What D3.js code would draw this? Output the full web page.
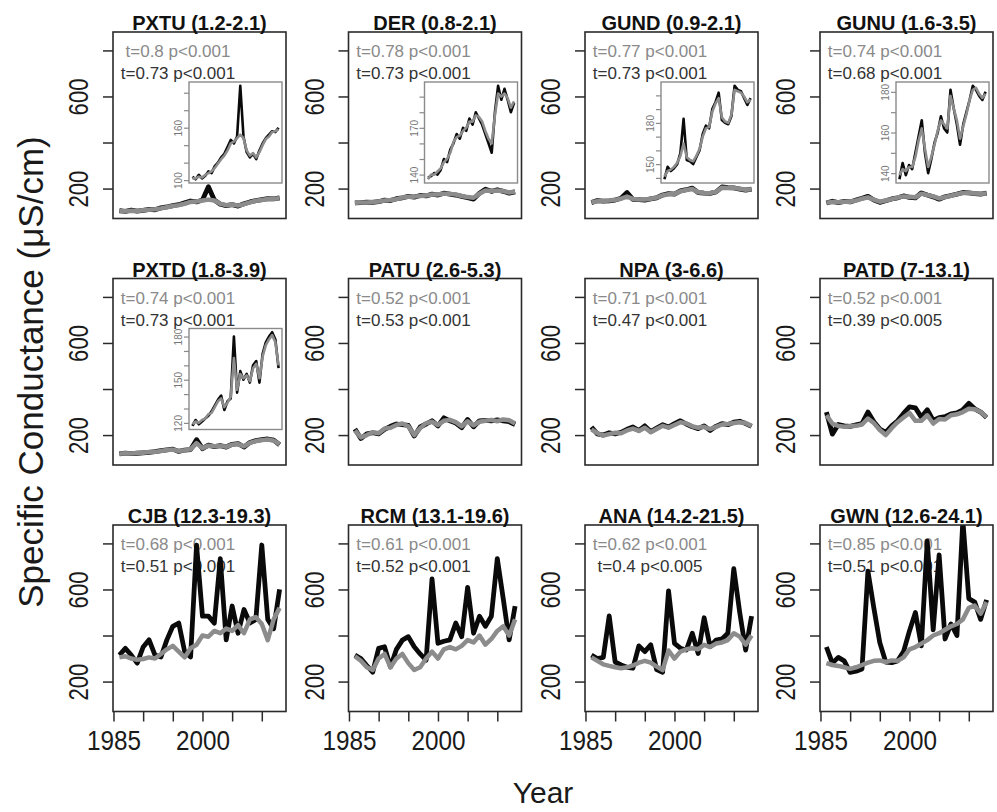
<!DOCTYPE html>
<html>
<head>
<meta charset="utf-8">
<script src="https://cdn.jsdelivr.net/npm/d3@7"></script>
<style>
  body { margin: 0; background: #fff; }
  svg { display: block; }
  text { font-family: "Liberation Sans", Arial, Helvetica, sans-serif; }
</style>
</head>
<body>
<svg width="997" height="812"></svg>
<script>
// ---- data ----
var years = d3.range(1986, 2014);
var sites = ["PXTU (1.2-2.1)", "DER (0.8-2.1)", "GUND (0.9-2.1)", "GUNU (1.6-3.5)",
             "PXTD (1.8-3.9)", "PATU (2.6-5.3)", "NPA (3-6.6)", "PATD (7-13.1)",
             "CJB (12.3-19.3)", "RCM (13.1-19.6)", "ANA (14.2-21.5)", "GWN (12.6-24.1)"];
var statsGray  = ["t=0.8 p<0.001", "t=0.78 p<0.001", "t=0.77 p<0.001", "t=0.74 p<0.001",
                  "t=0.74 p<0.001", "t=0.52 p<0.001", "t=0.71 p<0.001", "t=0.52 p<0.001",
                  "t=0.68 p<0.001", "t=0.61 p<0.001", "t=0.62 p<0.001", "t=0.85 p<0.001"];
var statsBlack = ["t=0.73 p<0.001", "t=0.73 p<0.001", "t=0.73 p<0.001", "t=0.68 p<0.001",
                  "t=0.73 p<0.001", "t=0.53 p<0.001", "t=0.47 p<0.001", "t=0.39 p<0.005",
                  "t=0.51 p<0.001", "t=0.52 p<0.001", "t=0.4 p<0.005", "t=0.51 p<0.001"];

var pxtuBlack = [104,101,106,102,105,110,108,116,120,126,130,138,146,142,150,208,150,132,126,130,124,134,142,148,152,156,155,160];
var pxtuGray  = [102,102,104,103,106,108,110,114,119,124,128,134,142,144,148,152,148,134,128,131,126,132,140,147,150,155,156,158];
var derBlack  = [138,139,141,140,143,150,148,156,160,166,163,170,168,176,172,180,176,172,166,160,154,180,197,188,195,188,180,186];
var derGray   = [137,140,140,142,144,148,150,154,161,164,165,168,170,174,174,178,177,174,168,163,160,178,192,190,192,189,183,187];
var gundBlack = [139,148,145,147,150,158,183,153,152,150,155,160,172,178,176,190,195,202,182,180,179,185,207,204,203,198,193,198];
var gundGray  = [141,145,146,148,151,156,165,155,153,152,156,161,170,176,177,188,194,198,184,181,180,186,204,203,202,199,195,197];
var gunuBlack = [137,145,139,144,142,150,158,166,150,140,147,155,160,168,162,160,181,172,164,154,164,170,176,183,181,178,176,180];
var gunuGray  = [139,142,141,143,143,148,156,162,152,143,148,154,161,166,164,162,178,172,166,157,163,169,176,181,182,179,177,179];
var pxtdBlack = [118,122,119,121,123,125,128,132,136,139,129,135,137,180,141,156,150,154,148,160,163,148,168,176,180,183,178,158];
var pxtdGray  = [119,121,120,122,123,126,127,131,135,137,131,134,138,165,143,154,151,153,149,158,161,151,166,174,178,181,176,160];
var patuBlack = [226,185,205,210,205,225,238,248,245,242,196,235,248,262,240,275,262,252,232,268,236,262,264,262,266,262,258,246];
var patuGray  = [220,190,200,212,208,228,232,244,250,238,200,230,252,258,244,262,266,256,238,260,242,258,262,266,260,268,264,250];
var npaBlack  = [235,205,200,210,205,212,225,235,220,240,215,230,245,235,250,262,248,236,228,240,220,238,250,245,256,260,250,238];
var npaGray   = [225,208,198,204,210,208,220,228,218,232,212,226,240,232,244,256,250,238,232,236,226,236,246,248,252,256,252,240];
var patdBlack = [300,204,246,240,238,244,250,300,258,226,212,240,262,294,322,318,278,310,264,276,280,292,296,310,338,314,300,276];
var patdGray  = [286,250,240,236,238,240,246,272,252,222,200,230,256,276,296,262,262,286,250,270,268,286,290,300,314,312,300,278];
var cjbBlack  = [315,344,315,280,350,381,315,307,381,440,454,330,307,793,484,484,454,734,381,528,410,513,454,470,793,470,430,600];
var cjbGray   = [305,310,300,295,298,305,300,320,340,355,330,305,345,360,400,395,420,410,430,420,445,410,470,480,450,380,470,520];
var rcmBlack  = [315,300,270,241,344,351,263,340,380,395,351,320,293,646,366,375,381,454,395,609,410,484,440,484,734,560,381,528];
var rcmGray   = [310,290,262,250,300,320,262,300,320,280,250,262,300,330,300,340,350,340,355,380,370,400,360,385,420,440,400,470];
var anaBlack  = [315,300,305,485,285,272,262,258,355,330,360,252,240,594,366,345,337,410,322,477,352,380,385,410,690,500,337,484];
var anaGray   = [305,290,275,268,262,258,262,270,282,290,282,265,250,335,300,330,340,345,340,360,350,365,370,380,410,395,360,400];
var gwnBlack  = [350,280,305,290,240,245,255,680,519,369,285,282,290,330,420,500,355,810,425,750,385,450,400,900,560,545,470,555];
var gwnGray   = [280,272,268,262,255,262,272,282,290,292,285,292,290,305,340,350,365,380,400,410,425,440,450,470,520,530,495,545];

var blackSeries = [pxtuBlack, derBlack, gundBlack, gunuBlack, pxtdBlack, patuBlack, npaBlack, patdBlack, cjbBlack, rcmBlack, anaBlack, gwnBlack];
var graySeries  = [pxtuGray, derGray, gundGray, gunuGray, pxtdGray, patuGray, npaGray, patdGray, cjbGray, rcmGray, anaGray, gwnGray];

var yTicks = [200, 400, 600, 800], yLabels = [200, 600];
var xTicks = [1985, 1990, 1995, 2000, 2005, 2010], xLabels = [1985, 2000];
var yLimits = [100, 850];
// inset axes (first five panels only)
var insetTicks  = [[100,120,140,160,180,200], [140,150,160,170,180,190], [140,150,160,170,180,190,200],
                   [140,150,160,170,180], [120,130,140,150,160,170,180]];
var insetLabels = [[100,160], [140,170], [150,180], [140,160,180], [120,150,180]];

// ---- layout ----
var svg = d3.select("svg");
var W = 173, H = 186.5;
var colX = [113, 348.5, 585, 820], rowY = [32, 278.5, 525];

function pad4(e) { var d = (e[1] - e[0]) * 0.04; return [e[0] - d, e[1] + d]; }

var x = d3.scaleLinear().domain(pad4(d3.extent(years))).range([0, W]);
var y = d3.scaleLinear().domain(pad4(yLimits)).range([H, 0]);

var line = d3.line()
    .x(function(d, i) { return x(years[i]); })
    .y(function(d) { return y(d); });

var defs = svg.append("defs");
defs.append("clipPath").attr("id", "clipMain")
  .append("rect").attr("width", W).attr("height", H);

sites.forEach(function(site, i) {
  var col = i % 4, row = Math.floor(i / 4);
  var g = svg.append("g").attr("transform", "translate(" + colX[col] + "," + rowY[row] + ")");

  // stats text, drawn under the lines
  g.append("text").attr("x", 65).attr("y", 25).attr("text-anchor", "middle")
    .attr("font-size", 17).attr("fill", "#8a8a8a").text(statsGray[i]);
  g.append("text").attr("x", 65).attr("y", 47).attr("text-anchor", "middle")
    .attr("font-size", 17).attr("fill", "#333").text(statsBlack[i]);

  var lines = g.append("g").attr("clip-path", "url(#clipMain)");
  lines.append("path").datum(blackSeries[i])
    .attr("fill", "none").attr("stroke", "#0a0a0a").attr("stroke-width", 4.8)
    .attr("stroke-linejoin", "round").attr("d", line);
  lines.append("path").datum(graySeries[i])
    .attr("fill", "none").attr("stroke", "#8c8c8c").attr("stroke-width", 4.5)
    .attr("stroke-linejoin", "round").attr("d", line);

  // inset
  if (i < insetTicks.length) {
    var iw = W - 80, ih = 101;
    var gi = g.append("g").attr("transform", "translate(" + (W - 4 - iw) + ",50)");
    var xi = d3.scaleLinear().domain(pad4(d3.extent(years))).range([0, iw]);
    var yi = d3.scaleLinear()
      .domain(pad4(d3.extent(blackSeries[i].concat(graySeries[i])))).range([ih, 0]);
    var lineI = d3.line()
      .x(function(d, k) { return xi(years[k]); })
      .y(function(d) { return yi(d); });
    gi.append("rect").attr("width", iw).attr("height", ih).attr("fill", "#fff");
    gi.append("path").datum(blackSeries[i])
      .attr("fill", "none").attr("stroke", "#0a0a0a").attr("stroke-width", 2.6)
      .attr("stroke-linejoin", "round").attr("d", lineI);
    gi.append("path").datum(graySeries[i])
      .attr("fill", "none").attr("stroke", "#8c8c8c").attr("stroke-width", 2.6)
      .attr("stroke-linejoin", "round").attr("d", lineI);
    gi.append("rect").attr("width", iw).attr("height", ih)
      .attr("fill", "none").attr("stroke", "#8a8a8a").attr("stroke-width", 1.4);
    var labs = insetLabels[i];
    var ai = gi.append("g")
      .call(d3.axisLeft(yi).tickValues(insetTicks[i]).tickSize(5).tickSizeOuter(0)
        .tickFormat(function(d) { return labs.indexOf(d) >= 0 ? d : ""; }))
      .attr("font-family", null).attr("font-size", null);
    ai.select(".domain").remove();
    ai.selectAll(".tick line").attr("stroke", "#8a8a8a").attr("stroke-width", 1.2);
    ai.selectAll(".tick text").attr("x", null).attr("dy", null)
      .attr("text-anchor", "middle").attr("font-size", 10).attr("fill", "#777")
      .attr("transform", "translate(-7,0) rotate(-90)");
  }

  // box
  g.append("rect").attr("width", W).attr("height", H)
    .attr("fill", "none").attr("stroke", "#2a2a2a").attr("stroke-width", 1.6);

  // y axis
  var ay = g.append("g")
    .call(d3.axisLeft(y).tickValues(yTicks).tickSize(10).tickSizeOuter(0)
      .tickFormat(function(d) { return yLabels.indexOf(d) >= 0 ? d : ""; }))
    .attr("font-family", null).attr("font-size", null);
  ay.select(".domain").remove();
  ay.selectAll(".tick line").attr("stroke", "#2a2a2a").attr("stroke-width", 1.5);
  ay.selectAll(".tick text").attr("x", null).attr("dy", null)
    .attr("text-anchor", "middle").attr("font-size", 27).attr("fill", "#1a1a1a")
    .attr("transform", "translate(-25,0) rotate(-90) scale(0.82,1)");

  // title
  g.append("text").attr("x", W / 2).attr("y", -2).attr("text-anchor", "middle")
    .attr("font-size", 20).attr("font-weight", "bold").attr("fill", "#111").text(site);

  // x axis on bottom row only
  if (row === 2) {
    var ax = g.append("g").attr("transform", "translate(0," + H + ")")
      .call(d3.axisBottom(x).tickValues(xTicks).tickSize(10).tickSizeOuter(0)
        .tickFormat(function(d) { return xLabels.indexOf(d) >= 0 ? d : ""; }))
      .attr("font-family", null).attr("font-size", null);
    ax.select(".domain").remove();
    ax.selectAll(".tick line").attr("stroke", "#2a2a2a").attr("stroke-width", 1.5);
    ax.selectAll(".tick text").attr("y", null).attr("dy", null)
      .attr("text-anchor", "middle").attr("font-size", 27).attr("fill", "#1a1a1a")
      .attr("transform", "translate(0,38) scale(0.9,1)");
  }
});

// axis titles
svg.append("text").attr("transform", "translate(43,372) rotate(-90)")
  .attr("text-anchor", "middle").attr("font-size", 35).attr("fill", "#1a1a1a")
  .text("Specific Conductance (\u03bcS/cm)");
svg.append("text").attr("x", 543).attr("y", 803).attr("text-anchor", "middle")
  .attr("font-size", 30).attr("fill", "#1a1a1a").text("Year");
</script>
</body>
</html>
